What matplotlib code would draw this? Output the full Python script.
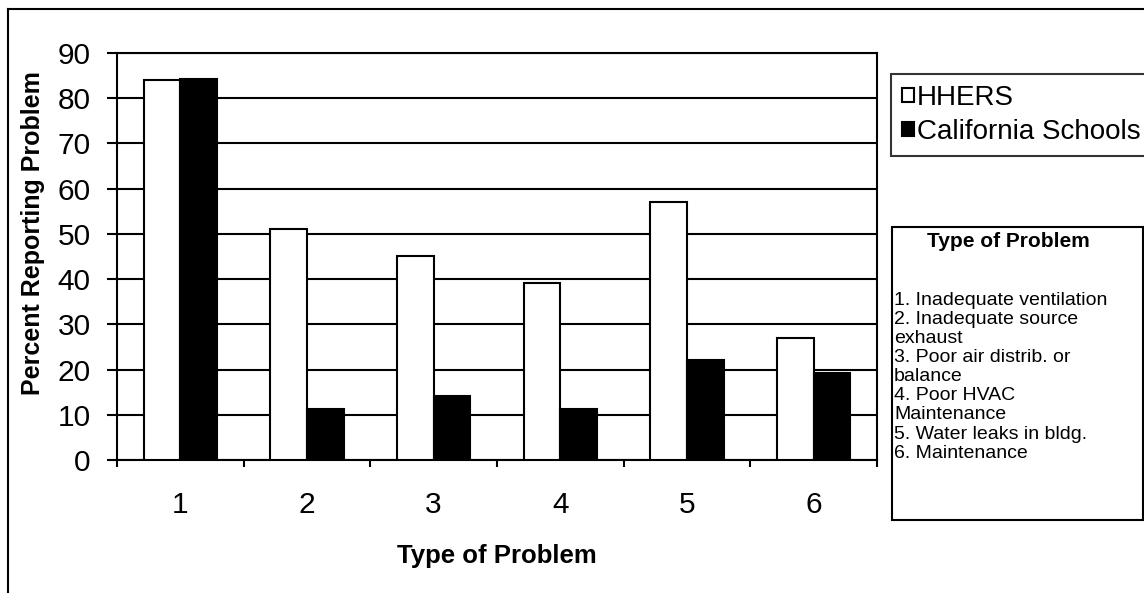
import numpy as np
import matplotlib
matplotlib.use('Agg')
import matplotlib.pyplot as plt
from matplotlib.patches import Rectangle
from matplotlib.lines import Line2D

plt.rcParams['font.family'] = ['Liberation Sans', 'DejaVu Sans']

#
# data
#
categories = ['1', '2', '3', '4', '5', '6']
hhers = [84, 51, 45.1, 39.1, 57, 27]
california = [84.3, 11.3, 14.2, 11.3, 22.2, 19.2]
series_names = ['HHERS', 'California Schools']
problem_title = 'Type of Problem'
problem_list = ['1. Inadequate ventilation', '2. Inadequate source', 'exhaust',
                '3. Poor air distrib. or', 'balance', '4. Poor HVAC',
                'Maintenance', '5. Water leaks in bldg.', '6. Maintenance']

W, H = 1144, 593
fig = plt.figure(figsize=(W / 100, H / 100), dpi=100)
ax = fig.add_axes([117 / W, 1 - 460 / H, (877 - 117) / W, (460 - 53) / H])

x = np.arange(1, len(categories) + 1)
bw = 0.29
ax.bar(x - bw / 2, hhers, bw, color='white', edgecolor='black', linewidth=1.5,
       label=series_names[0], zorder=3)
ax.bar(x + bw / 2, california, bw, color='black', edgecolor='black', linewidth=1.5,
       label=series_names[1], zorder=3)

ax.set_xlim(0.5, len(categories) + 0.5)
ax.set_ylim(0, 90)
ax.set_yticks(np.arange(0, 91, 10))
ax.yaxis.grid(True, color='black', linewidth=1.5)
ax.set_axisbelow(True)
ax.tick_params(axis='y', direction='out', length=7.5, width=1.5, pad=11.5, labelsize=21.5)

# boundary ticks without labels, labels at category centres
ax.set_xticks(np.arange(0.5, len(categories) + 1, 1))
ax.set_xticklabels([])
ax.set_xticks(x, minor=True)
ax.set_xticklabels(categories, minor=True)
ax.tick_params(axis='x', which='major', direction='out', length=5, width=1.5)
ax.tick_params(axis='x', which='minor', length=0, pad=22, labelsize=21.5)

for s in ax.spines.values():
    s.set_linewidth(1.5)

ax.set_xlabel(problem_title, fontsize=18.5, fontweight='bold', labelpad=18)
ax.set_ylabel('Percent Reporting Problem', fontsize=18, fontweight='bold')
ax.yaxis.set_label_coords(-(117 - 45) / (877 - 117), (460 - 233) / (460 - 53))

# outer frame
fig.add_artist(Line2D([8 / W, 1.0], [1 - 9 / H, 1 - 9 / H], color='black', lw=1.5))
fig.add_artist(Line2D([8 / W, 8 / W], [0, 1 - 9 / H], color='black', lw=1.5))

# series legend
leg = fig.legend(loc='upper left', bbox_to_anchor=(891 / W, 1 - 74 / H),
                 fontsize=20, frameon=True, fancybox=False, edgecolor='black',
                 handlelength=0.42, handleheight=0.42, handletextpad=0.1,
                 borderpad=0.4, labelspacing=0.28, borderaxespad=0)
leg.get_frame().set_linewidth(1.5)

# problem key box
fig.add_artist(Rectangle((892 / W, 1 - 520 / H), (1143 - 892) / W, (520 - 227) / H,
                         transform=fig.transFigure, facecolor='white',
                         edgecolor='black', linewidth=1.5))
fig.text(1008 / W, 1 - 242 / H, problem_title, fontsize=15, fontweight='bold',
         ha='center', va='center')
fig.text(894 / W, 1 - 292 / H, '\n'.join(problem_list), fontsize=14,
         ha='left', va='top', linespacing=1.16)

fig.savefig('out.png', dpi=100)
